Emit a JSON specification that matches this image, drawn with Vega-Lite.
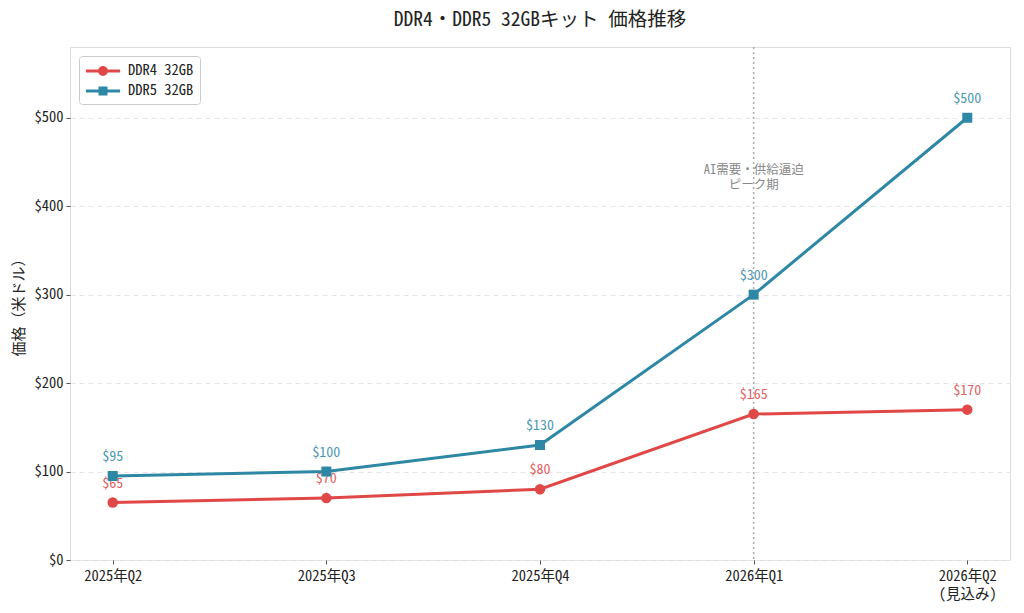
{
  "$schema": "https://vega.github.io/schema/vega-lite/v6.json",
  "autosize": {"type": "none"},
  "width": 940,
  "height": 513,
  "padding": {"left": 70, "top": 47, "right": 14, "bottom": 53},
  "background": "white",
  "title": {
    "text": "DDR4・DDR5 32GBキット 価格推移",
    "fontSize": 19.5,
    "fontWeight": "normal",
    "font": "Noto Sans Mono CJK JP, Noto Sans CJK JP",
    "color": "#222222",
    "offset": 16
  },
  "config": {
    "font": "Noto Sans Mono CJK JP, Noto Sans CJK JP",
    "view": {"stroke": "#dddddd", "strokeWidth": 1},
    "axis": {
      "labelFont": "Noto Sans Mono CJK JP, Noto Sans CJK JP",
      "titleFont": "Noto Sans Mono CJK JP, Noto Sans CJK JP",
      "labelColor": "#222222",
      "tickColor": "#555555",
      "tickSize": 4,
      "domain": false
    },
    "legend": {
      "labelFont": "Noto Sans Mono CJK JP, Noto Sans CJK JP"
    }
  },
  "datasets": {
    "prices": [
      {"quarter": "2025年Q2", "series": "DDR4 32GB", "price": 65},
      {"quarter": "2025年Q3", "series": "DDR4 32GB", "price": 70},
      {"quarter": "2025年Q4", "series": "DDR4 32GB", "price": 80},
      {"quarter": "2026年Q1", "series": "DDR4 32GB", "price": 165},
      {"quarter": "2026年Q2\n(見込み)", "series": "DDR4 32GB", "price": 170},
      {"quarter": "2025年Q2", "series": "DDR5 32GB", "price": 95},
      {"quarter": "2025年Q3", "series": "DDR5 32GB", "price": 100},
      {"quarter": "2025年Q4", "series": "DDR5 32GB", "price": 130},
      {"quarter": "2026年Q1", "series": "DDR5 32GB", "price": 300},
      {"quarter": "2026年Q2\n(見込み)", "series": "DDR5 32GB", "price": 500}
    ],
    "marker": [
      {"quarter": "2026年Q1"}
    ],
    "note": [
      {"quarter": "2026年Q1", "price": 441, "text": "AI需要・供給逼迫"},
      {"quarter": "2026年Q1", "price": 424, "text": "ピーク期"}
    ]
  },
  "encoding": {
    "x": {
      "field": "quarter",
      "type": "ordinal",
      "scale": {
        "type": "point",
        "padding": 0.2,
        "domain": ["2025年Q2", "2025年Q3", "2025年Q4", "2026年Q1", "2026年Q2\n(見込み)"]
      },
      "axis": {
        "title": null,
        "labelAngle": 0,
        "labelPadding": 5,
        "labelExpr": "split(datum.label, '\\n')",
        "labelLineHeight": 18,
        "labelFontSize": 14.5,
        "grid": false
      }
    },
    "y": {
      "field": "price",
      "type": "quantitative",
      "scale": {"domain": [0, 580], "nice": false},
      "axis": {
        "title": "価格（米ドル）",
        "titleFontSize": 15,
        "titleFontWeight": "normal",
        "titleColor": "#222222",
        "titlePadding": 8,
        "values": [0, 100, 200, 300, 400, 500],
        "format": "$,.0f",
        "labelFontSize": 14.5,
        "labelPadding": 3,
        "grid": true,
        "gridColor": "#e6e6e6",
        "gridDash": [5, 4]
      }
    }
  },
  "layer": [
    {
      "data": {"name": "marker"},
      "mark": {"type": "rule", "color": "#aaaaaa", "strokeDash": [2, 3], "strokeWidth": 1.5},
      "encoding": {"y": null}
    },
    {
      "data": {"name": "note"},
      "mark": {"type": "text", "color": "#888888", "fontSize": 12.5, "baseline": "middle"},
      "encoding": {"text": {"field": "text"}}
    },
    {
      "data": {"name": "prices"},
      "mark": {"type": "text", "dy": -19, "fontSize": 14, "opacity": 0.85},
      "encoding": {
        "text": {"field": "price", "type": "quantitative", "format": "$,.0f"},
        "color": {"field": "series", "type": "nominal"}
      }
    },
    {
      "data": {"name": "prices"},
      "mark": {"type": "line", "strokeWidth": 3},
      "encoding": {
        "color": {"field": "series", "type": "nominal"}
      }
    },
    {
      "data": {"name": "prices"},
      "transform": [{"filter": "datum.series == 'DDR4 32GB'"}],
      "mark": {"type": "point", "filled": true, "opacity": 1, "shape": "circle", "size": 110},
      "encoding": {
        "color": {"field": "series", "type": "nominal"}
      }
    },
    {
      "data": {"name": "prices"},
      "transform": [{"filter": "datum.series == 'DDR5 32GB'"}],
      "mark": {"type": "point", "filled": true, "opacity": 1, "shape": "square", "size": 100},
      "encoding": {
        "color": {
          "field": "series",
          "type": "nominal",
          "scale": {"domain": ["DDR4 32GB", "DDR5 32GB"], "range": ["#e04848", "#2e87a5"]},
          "legend": {
            "title": null,
            "orient": "top-left",
            "offset": 9,
            "padding": 6,
            "fillColor": "white",
            "strokeColor": "#cccccc",
            "cornerRadius": 3,
            "labelFontSize": 14.5,
            "labelColor": "#222222",
            "labelOffset": 25,
            "rowPadding": 4,
            "symbolSize": 324,
            "symbolStrokeWidth": 0,
            "symbolOpacity": 1,
            "symbolType": {"expr": "datum.value == 'DDR4 32GB' ? 'M-0.9,-0.17H2.9V0.17H-0.9Z M1.55,0A0.55,0.55 0 1,1 0.45,0A0.55,0.55 0 1,1 1.55,0Z' : 'M-0.9,-0.17H2.9V0.17H-0.9Z M0.5,-0.5H1.5V0.5H0.5Z'"},
            "encode": {
              "symbols": {
                "update": {
                  "fill": {"signal": "scale('color', datum.value)"},
                  "opacity": {"value": 1}
                }
              }
            }
          }
        }
      }
    }
  ]
}
